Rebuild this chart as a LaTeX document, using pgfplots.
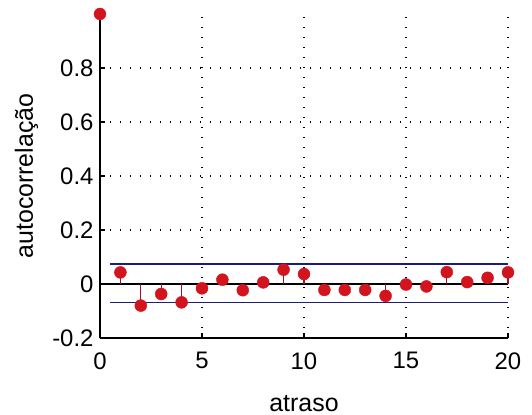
\documentclass[border=0pt]{standalone}
\usepackage{fontspec}
\setmainfont{Liberation Sans}
\usepackage{pgfplots}
\usepackage{pgfplotstable}
\pgfplotsset{compat=1.18}
\definecolor{mk}{RGB}{210,20,30}
\definecolor{stemc}{RGB}{150,20,35}
\definecolor{bnd}{RGB}{30,30,120}
\pgfplotstableread{
lag acf
0 1.000
1 0.043
2 -0.080
3 -0.037
4 -0.068
5 -0.016
6 0.016
7 -0.023
8 0.006
9 0.053
10 0.037
11 -0.022
12 -0.022
13 -0.022
14 -0.044
15 -0.002
16 -0.009
17 0.044
18 0.007
19 0.023
20 0.043
}\acfdata
\pgfplotstableread{
lag acf
1 0.043
2 -0.080
3 -0.037
4 -0.068
5 -0.016
6 0.016
7 -0.023
8 0.006
9 0.053
10 0.037
11 -0.022
12 -0.022
13 -0.022
14 -0.044
15 -0.002
16 -0.009
17 0.044
18 0.007
19 0.023
20 0.043
}\stemdata
\begin{document}
\begin{tikzpicture}
\begin{axis}[name=ax, scale only axis, width=408bp, height=324bp,
  xmin=0, xmax=20, ymin=-0.2, ymax=1,
  axis x line*=bottom, axis y line*=left,
  axis line style={line width=1.6bp, -},
  xtick={0,5,10,15,20}, xticklabels={0,5,10,15,20},
  ytick={-0.2,0,0.2,0.4,0.6,0.8},
  yticklabels={-0.2,0,0.2,0.4,0.6,0.8},
  tick align=inside, major tick length=5bp,
  tick style={line width=1.2bp, black},
  ticklabel style={font=\fontsize{24}{26}\selectfont},
  xticklabel style={yshift=-11bp},
  yticklabel style={xshift=-3bp},
  xlabel={atraso}, ylabel={autocorrelação},
  label style={font=\fontsize{25}{28}\selectfont},
  xlabel style={at={([yshift=-73bp]axis description cs:0.5,0)}, anchor=base},
  ylabel style={at={([xshift=-67bp]axis description cs:0,0.5)}, anchor=base, rotate=0},
  grid=major, grid style={black, line width=1.3bp, dash pattern=on 1.3bp off 8.7bp},
  clip=false,
]
\addplot[bnd, line width=1.3bp] coordinates {(0.5,0.074) (20,0.074)};
\addplot[bnd, line width=1.3bp] coordinates {(0.5,-0.068) (20,-0.068)};
\addplot[black, line width=1.6bp] coordinates {(0,0) (20,0)};
\addplot[stemc, ycomb, line width=1.3bp] table[x=lag, y=acf] {\stemdata};
\addplot[only marks, mark=*, mark size=6bp, mark options={fill=mk, draw=mk}] table[x=lag, y=acf] {\acfdata};
\end{axis}
\useasboundingbox ([xshift=-100bp, yshift=-77bp]ax.south west) rectangle ([xshift=24bp, yshift=14bp]ax.north east);
\end{tikzpicture}
\end{document}
